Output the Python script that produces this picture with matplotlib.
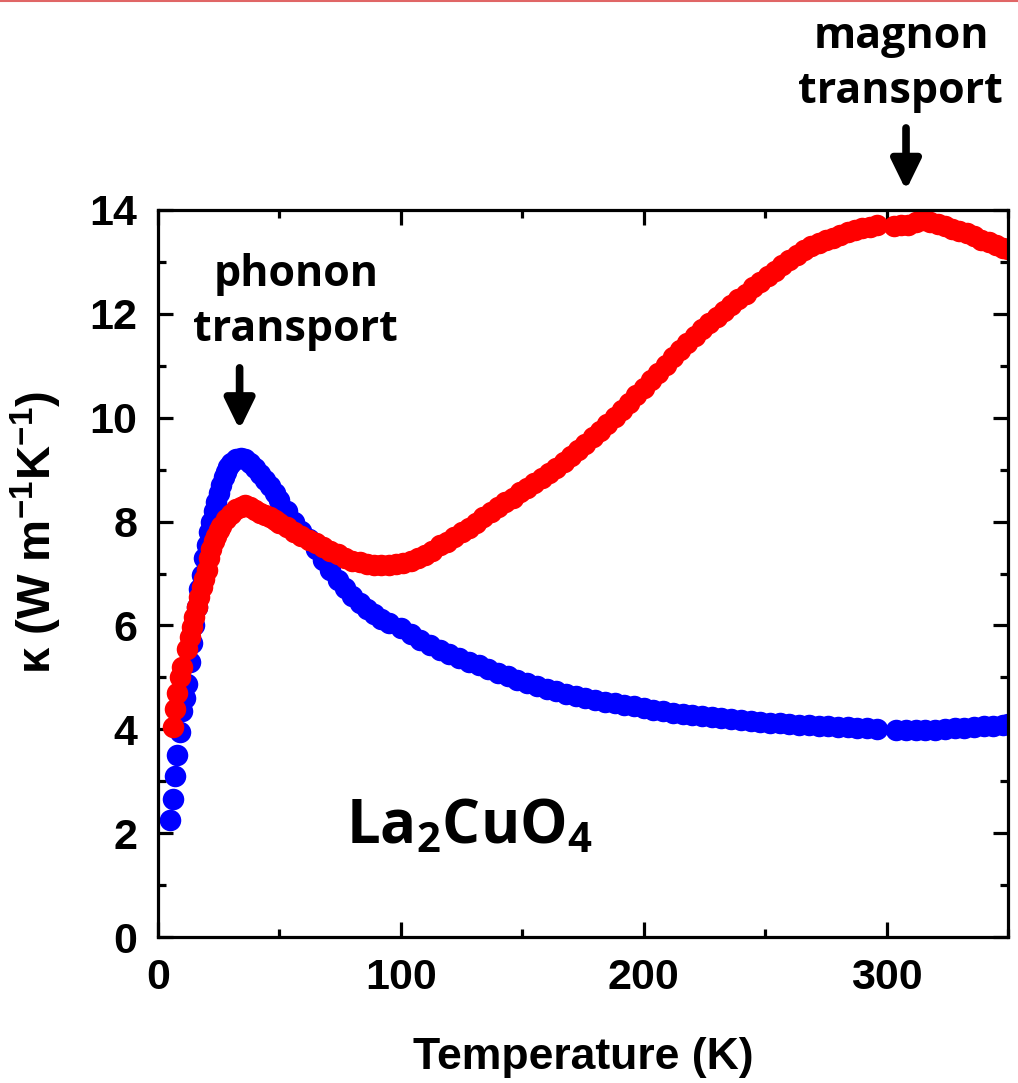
import matplotlib
matplotlib.use("Agg")
import matplotlib.pyplot as plt
from matplotlib.lines import Line2D
from matplotlib.ticker import MultipleLocator

# blue series (lower curve at high T)
t_blue = [5, 6, 7, 8, 9, 10, 11, 12, 13, 14, 15, 16, 17, 18, 19, 20, 21, 22, 23, 24,
          25, 26, 27, 28, 29, 30, 32, 34, 36, 38, 40, 42, 44, 46, 48, 50, 53, 56, 59, 62,
          65, 68, 71, 74, 77, 80, 83, 86, 89, 92, 95, 100, 104, 108, 112, 116, 120, 124, 128, 132,
          136, 140, 144, 148, 152, 156, 160, 164, 168, 172, 176, 180, 184, 188, 192, 196, 200, 204, 208, 212,
          216, 220, 224, 228, 232, 236, 240, 244, 248, 252, 256, 260, 264, 268, 272, 276, 280, 284, 288, 292,
          296, 304, 308, 312, 316, 320, 324, 328, 332, 336, 340, 344, 348, 350]
k_blue = [2.25, 2.65, 3.1, 3.5, 3.95, 4.35, 4.6, 4.87, 5.3, 5.66, 6.0, 6.35, 6.7, 6.97, 7.3, 7.55, 7.8, 8.0, 8.2, 8.38,
          8.55, 8.7, 8.85, 8.95, 9.05, 9.12, 9.2, 9.23, 9.2, 9.12, 9.03, 8.92, 8.8, 8.68, 8.55, 8.42, 8.2, 8.0, 7.82, 7.66,
          7.48, 7.26, 7.06, 6.88, 6.72, 6.57, 6.44, 6.32, 6.22, 6.12, 6.04, 5.95, 5.83, 5.72, 5.62, 5.53, 5.45, 5.37, 5.30, 5.23,
          5.16, 5.09, 5.02, 4.95, 4.89, 4.84, 4.78, 4.73, 4.68, 4.64, 4.60, 4.56, 4.53, 4.50, 4.47, 4.44, 4.41, 4.38, 4.35, 4.32,
          4.29, 4.27, 4.25, 4.23, 4.21, 4.19, 4.18, 4.16, 4.15, 4.13, 4.12, 4.10, 4.09, 4.08, 4.07, 4.06, 4.05, 4.04, 4.03, 4.02,
          4.01, 3.98, 3.98, 3.98, 3.99, 3.99, 4.00, 4.02, 4.03, 4.04, 4.06, 4.07, 4.09, 4.10]

# red series (magnon hump)
t_red = [6, 7, 8, 9, 10, 12, 13, 14, 15, 16, 17, 18, 19, 20, 21, 22, 23, 24, 25, 26, 28,
         30, 32, 34, 36, 38, 40, 42, 44, 46, 48, 50, 53, 56, 59, 62, 65, 68, 71, 74, 77,
         80, 83, 86, 89, 92, 95, 98, 101, 104, 107, 110, 113, 116, 119, 122, 125, 128, 131, 134, 137,
         140, 143, 146, 149, 152, 155, 158, 161, 164, 167, 170, 173, 176, 179, 182, 185, 188, 191, 194, 197,
         200, 203, 206, 209, 212, 215, 218, 221, 224, 227, 230, 233, 236, 239, 242, 245, 248, 251, 254, 257,
         260, 263, 266, 269, 272, 275, 278, 281, 284, 287, 290, 293, 296, 303, 306, 309, 312, 315, 318, 321,
         324, 327, 330, 333, 336, 339, 342, 345, 348, 350]
k_red = [4.05, 4.4, 4.7, 5.0, 5.2, 5.55, 5.78, 5.97, 6.17, 6.35, 6.55, 6.74, 6.9, 7.07, 7.3, 7.48, 7.62, 7.73, 7.83, 7.92, 8.04,
         8.15, 8.24, 8.29, 8.31, 8.28, 8.23, 8.17, 8.12, 8.08, 8.03, 7.98, 7.89, 7.80, 7.72, 7.65, 7.58, 7.51, 7.44, 7.37, 7.30,
         7.25, 7.22, 7.19, 7.17, 7.17, 7.17, 7.19, 7.21, 7.25, 7.30, 7.36, 7.43, 7.54, 7.61, 7.70, 7.79, 7.88, 7.98, 8.08, 8.18,
         8.28, 8.37, 8.46, 8.56, 8.65, 8.75, 8.84, 8.94, 9.04, 9.15, 9.26, 9.38, 9.50, 9.62, 9.75, 9.88, 10.01, 10.15, 10.29, 10.44,
         10.58, 10.72, 10.87, 11.02, 11.16, 11.31, 11.44, 11.57, 11.71, 11.83, 11.94, 12.05, 12.17, 12.28, 12.39, 12.51, 12.61, 12.72, 12.83, 12.94,
         13.04, 13.14, 13.23, 13.30, 13.36, 13.42, 13.47, 13.52, 13.57, 13.61, 13.65, 13.68, 13.71, 13.70, 13.71, 13.72, 13.76, 13.80, 13.77, 13.73,
         13.69, 13.64, 13.60, 13.56, 13.50, 13.43, 13.38, 13.32, 13.27, 13.24]

plt.rcParams['mathtext.default'] = 'regular'

fig = plt.figure(figsize=(10.18, 10.83), dpi=100)
ax = fig.add_axes([0.1552, 0.1348, 0.835, 0.6713])

ax.plot(t_blue, k_blue, 'o', ls='none', color='#0000ff', ms=15.5, mew=0)
ax.plot(t_red, k_red, 'o', ls='none', color='#ff0000', ms=15.5, mew=0)

ax.set_xlim(0, 350)
ax.set_ylim(0, 14)
ax.xaxis.set_major_locator(MultipleLocator(100))
ax.xaxis.set_minor_locator(MultipleLocator(50))
ax.yaxis.set_major_locator(MultipleLocator(2))
ax.yaxis.set_minor_locator(MultipleLocator(1))
ax.tick_params(which='both', direction='in', top=True, right=True, width=2.3)
ax.tick_params(which='major', length=11, pad=15)
ax.tick_params(which='minor', length=6)
for lab in ax.get_xticklabels() + ax.get_yticklabels():
    lab.set_fontfamily('Liberation Sans')
    lab.set_fontweight('bold')
    lab.set_fontsize(31)
for sp in ax.spines.values():
    sp.set_linewidth(2.3)

ax.set_xlabel('Temperature (K)', family='Liberation Sans', weight='bold', fontsize=32)
ax.set_ylabel('κ (W m$^{-1}$K$^{-1}$)', family='Liberation Sans', weight='bold', fontsize=34)
ax.xaxis.set_label_coords(0.5, -0.137)
ax.yaxis.set_label_coords(-0.11, 0.557)

ann = dict(family='Open Sans', weight='bold', fontsize=31, ha='center', va='baseline',
           linespacing=1.35, clip_on=False)
ax.text(56.7, 11.48, 'phonon\ntransport', **ann)
ax.text(305.9, 16.06, 'magnon\ntransport', **ann)
ax.text(77.3, 1.81, 'La$_2$CuO$_4$', family='Open Sans', weight='bold', fontsize=43,
        ha='left', va='baseline')

arrow = dict(arrowstyle='-|>,head_length=0.45,head_width=0.22', color='black', lw=5.5,
             mutation_scale=40, shrinkA=0, shrinkB=0)
ax.annotate('', xy=(33.6, 9.77), xytext=(33.6, 10.96), arrowprops=arrow)
ax.annotate('', xy=(308, 14.38), xytext=(308, 15.58), arrowprops=arrow, annotation_clip=False)

# thin red rule at the top of the slide
fig.add_artist(Line2D([0, 1], [0.999, 0.999], transform=fig.transFigure, color='#e06666', lw=1.5))

fig.savefig('out.png', dpi=100)
